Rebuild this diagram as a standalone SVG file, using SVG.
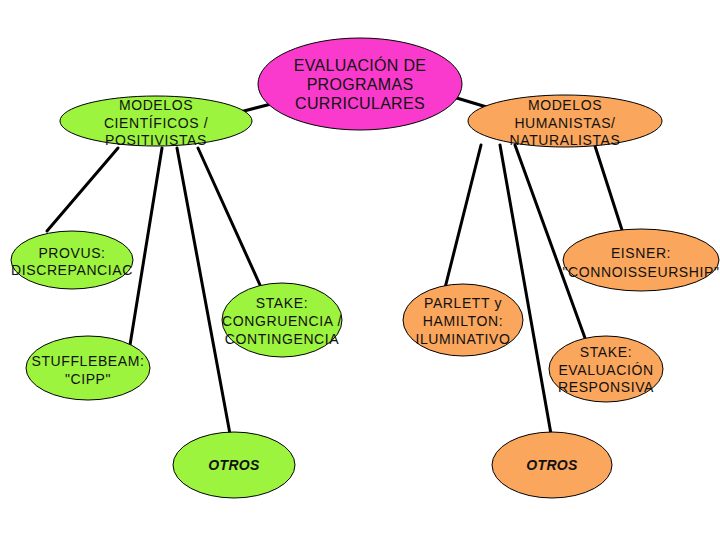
<svg xmlns="http://www.w3.org/2000/svg" width="720" height="540" viewBox="0 0 720 540">
<style>
.c line{stroke:#000;stroke-width:3;stroke-linecap:round}
ellipse{stroke:#000;stroke-width:1}
.g{fill:#9CF43E}
.o{fill:#FAA65C}
.m{fill:#FA3ACC}
text{font-family:"Liberation Sans",Arial,sans-serif;font-size:14px;fill:#111;text-anchor:middle;letter-spacing:0.6px}
.big{font-size:16px;letter-spacing:0.3px}
.it{font-weight:bold;font-style:italic;letter-spacing:0.3px}
</style>
<rect width="720" height="540" fill="#fff"/>
<g class="c" id="connectors">
<line x1="240" y1="112" x2="275" y2="103"/>
<line x1="450" y1="96" x2="490" y2="108"/>
<line x1="118" y1="148" x2="47" y2="231"/>
<line x1="162" y1="148" x2="130" y2="345"/>
<line x1="177" y1="148" x2="230" y2="434"/>
<line x1="198" y1="148" x2="260" y2="285"/>
<line x1="481" y1="145" x2="445" y2="288"/>
<line x1="500" y1="145" x2="551" y2="434"/>
<line x1="515" y1="145" x2="585" y2="338"/>
<line x1="595" y1="146" x2="622" y2="230"/>
</g>
<g id="top">
<ellipse class="m" cx="360" cy="84" rx="102" ry="46"/>
<text class="big" x="360" y="71">EVALUACIÓN DE</text>
<text class="big" x="360" y="90">PROGRAMAS</text>
<text class="big" x="360" y="109">CURRICULARES</text>
</g>
<g id="cientificos">
<ellipse class="g" cx="156" cy="121" rx="96" ry="25"/>
<text x="156" y="110">MODELOS</text>
<text x="156" y="128">CIENTÍFICOS /</text>
<text x="156" y="145">POSITIVISTAS</text>
</g>
<g id="humanistas">
<ellipse class="o" cx="565" cy="121" rx="97" ry="26"/>
<text x="565" y="110">MODELOS</text>
<text x="565" y="128">HUMANISTAS/</text>
<text x="565" y="145">NATURALISTAS</text>
</g>
<g id="provus">
<ellipse class="g" cx="72" cy="260" rx="61" ry="29"/>
<text x="72" y="258">PROVUS:</text>
<text x="72" y="275">DISCREPANCIAC</text>
</g>
<g id="stufflebeam">
<ellipse class="g" cx="88" cy="368" rx="62" ry="32"/>
<text x="88" y="366">STUFFLEBEAM:</text>
<text x="88" y="384">"CIPP"</text>
</g>
<g id="stake-g">
<ellipse class="g" cx="282" cy="320" rx="60" ry="37"/>
<text x="282" y="308">STAKE:</text>
<text x="282" y="326">CONGRUENCIA /</text>
<text x="282" y="344">CONTINGENCIA</text>
</g>
<g id="otros-g">
<ellipse class="g" cx="234" cy="465" rx="61" ry="33"/>
<text class="it" x="234" y="470">OTROS</text>
</g>
<g id="eisner">
<ellipse class="o" cx="641" cy="260" rx="78" ry="31"/>
<text x="641" y="258">EISNER:</text>
<text x="641" y="277">"CONNOISSEURSHIP"</text>
</g>
<g id="parlett">
<ellipse class="o" cx="463" cy="320" rx="60" ry="36"/>
<text x="463" y="308">PARLETT y</text>
<text x="463" y="326">HAMILTON:</text>
<text x="463" y="344">ILUMINATIVO</text>
</g>
<g id="stake-o">
<ellipse class="o" cx="606" cy="369" rx="57" ry="33"/>
<text x="606" y="357">STAKE:</text>
<text x="606" y="375">EVALUACIÓN</text>
<text x="606" y="392">RESPONSIVA</text>
</g>
<g id="otros-o">
<ellipse class="o" cx="552" cy="465" rx="60" ry="33"/>
<text class="it" x="552" y="470">OTROS</text>
</g>
</svg>
